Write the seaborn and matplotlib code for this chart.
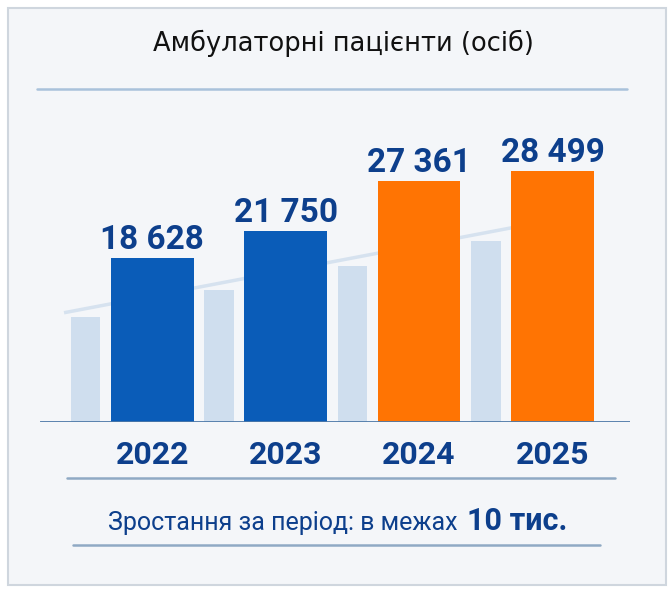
import matplotlib
matplotlib.use("Agg")
import matplotlib.pyplot as plt
import seaborn as sns
import numpy as np
import pandas as pd
from matplotlib.patches import Rectangle
from matplotlib.lines import Line2D

# ---- data ----
years = ["2022", "2023", "2024", "2025"]
patients = [18628, 21750, 27361, 28499]
value_labels = ["18 628", "21 750", "27 361", "28 499"]
shadow_values = [11900, 15000, 17700, 20600]   # decorative backdrop bars
title = "Амбулаторні пацієнти (осіб)"
footer_text = "Зростання за період: в межах"
footer_bold = "10 тис."

BLUE = "#0a5cb8"
ORANGE = "#ff7403"
SHADOW = "#cfdeee"
DARK = "#0d3f8c"
bar_colors = [BLUE, BLUE, ORANGE, ORANGE]

sns.set_theme(style="white")
NARROW = ["Roboto", "DejaVu Sans"]
plt.rcParams["font.family"] = ["DejaVu Sans"]

W, H = 671, 600
fig = plt.figure(figsize=(W / 100, H / 100), dpi=100)
fig.patch.set_facecolor("white")

def fx(px):
    return px / W

def fy(py):
    return 1 - py / H

# card
fig.patches.append(Rectangle((fx(8), fy(585)), fx(666) - fx(8), fy(8) - fy(585),
                             transform=fig.transFigure, facecolor="#f4f6f9",
                             edgecolor="#cfd6de", lw=1.5, zorder=-10))

# separator lines
for (x0, x1, y, c) in [(37, 627, 89, "#a9c2db"), (67, 615, 478, "#8fa9c4"), (73, 600, 545, "#8fa9c4")]:
    fig.add_artist(Line2D([fx(x0), fx(x1)], [fy(y), fy(y)], transform=fig.transFigure,
                          color=c, lw=1.8, zorder=-5))

fig.text(fx(343), fy(43), title, ha="center", va="center", fontsize=18.5, color="#111111")

ax = fig.add_axes([fx(40), fy(422), fx(630) - fx(40), fy(100) - fy(422)])
ax.set_facecolor("none")
ax.set_zorder(5)

df = pd.DataFrame({"year": years, "patients": patients})
pos = np.arange(len(years))

# backdrop bars and connector line
ax.bar(pos - 0.5, shadow_values, width=0.22, color=SHADOW, linewidth=0, zorder=1)
slope, icpt = np.polyfit(pos - 0.5, np.array(shadow_values) + 900, 1)
xl = np.array([pos[0] - 0.66, pos[-1] - 0.28])
ax.plot(xl, slope * xl + icpt, color="#d6e2ef", lw=2.5, zorder=0.5,
        solid_capstyle="butt")

sns.barplot(data=df, x="year", y="patients", hue="year", palette=bar_colors,
            legend=False, width=0.62, saturation=1, linewidth=0, ax=ax, zorder=2)

for i, (v, lab) in enumerate(zip(patients, value_labels)):
    ax.annotate(lab, (i, v), xytext=(0, 1.5), textcoords="offset points",
                ha="center", va="bottom", fontsize=24, fontweight="bold",
                color=DARK, family=NARROW, zorder=3, annotation_clip=False)

ax.axhline(0, color="#4c78a8", lw=2, zorder=3)
ax.set_xlim(-0.84, 3.58)
ax.set_ylim(0, 36600)
ax.set_xlabel("")
ax.set_ylabel("")
ax.set_yticks([])
for s in ax.spines.values():
    s.set_visible(False)
ax.tick_params(axis="x", length=0, pad=13)
for t in ax.get_xticklabels():
    t.set_fontsize(23)
    t.set_fontweight("bold")
    t.set_color(DARK)
    t.set_family(NARROW)

fig.text(fx(458), fy(530), footer_text, ha="right", va="baseline", fontsize=18,
         color=DARK, family=NARROW)
fig.text(fx(467), fy(530), footer_bold, ha="left", va="baseline", fontsize=22,
         fontweight="bold", color=DARK, family=NARROW)

fig.savefig("out.png", dpi=100, facecolor="white")
